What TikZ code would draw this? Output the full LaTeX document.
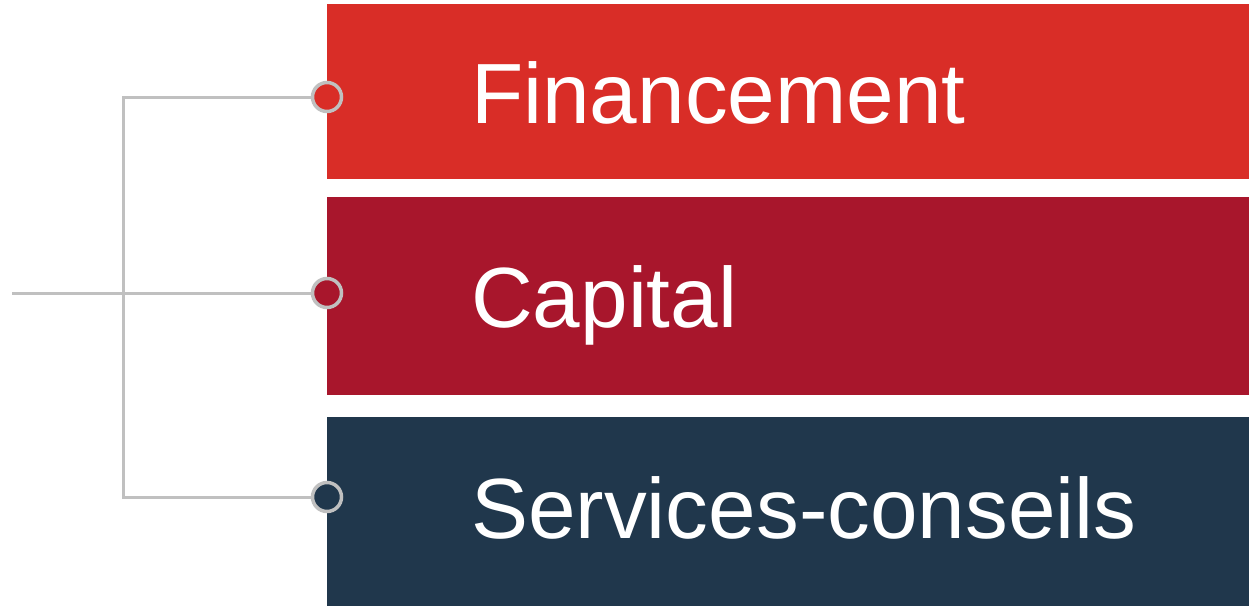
\documentclass[tikz,border=0pt]{standalone}
\usepackage{fontspec}
\setmainfont{Liberation Sans}
\definecolor{finred}{HTML}{D92D27}
\definecolor{capred}{HTML}{A8162C}
\definecolor{servblue}{HTML}{20374C}
\definecolor{linegray}{HTML}{C0C0C0}

\begin{document}
\begin{tikzpicture}[x=1pt, y=-1pt]
  \tikzset{
    band/.style={rectangle, inner sep=0pt, minimum width=922pt, anchor=north west},
    bandtext/.style={inner sep=0pt, anchor=base west, text=white, font=\fontsize{85.5}{100}\selectfont},
    dot/.style={circle, draw=linegray, line width=3.5pt, minimum size=29pt, inner sep=0pt},
    link/.style={draw=linegray, line width=3pt}
  }
  \useasboundingbox (0,0) rectangle (1254,606);

  % bands, their dots and texts
  \foreach \name/\col/\top/\h/\dy/\base/\txt in {
      fin/finred/4/175/97/123/Financement,
      cap/capred/197/198/293/327/Capital,
      serv/servblue/417/189/497/538/Services-conseils} {
    \node[band, fill=\col, minimum height=\h pt] (\name) at (327,\top) {};
    \node[bandtext] (\name text) at (471,\base) {\txt};
    \node[dot, fill=\col] (\name dot) at (327,\dy) {};
  }

  \coordinate (root) at (12,293);
  \coordinate (top) at (123,97);
  \coordinate (bottom) at (123,497);

  \draw[link] (root) -- (capdot);
  \draw[link] (findot) -- (top) -- (bottom) -- (servdot);

\end{tikzpicture}
\end{document}
